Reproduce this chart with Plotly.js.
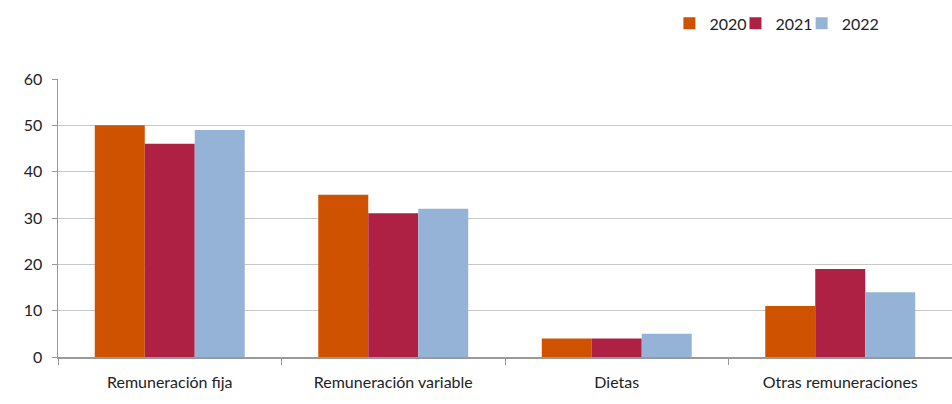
<!DOCTYPE html>
<html>
<head>
<meta charset="utf-8">
<script src="https://cdn.plot.ly/plotly-3.0.1.min.js"></script>
<style>html,body{margin:0;padding:0;background:#fff;}#chart{width:952px;height:404px;}</style>
</head>
<body>
<div id="chart"></div>
<script>
const categories = ["Remuneración fija", "Remuneración variable", "Dietas", "Otras remuneraciones"];
const seriesNames = ["2020", "2021", "2022"];
const values2020 = [50, 35, 4, 11];
const values2021 = [46, 31, 4, 19];
const values2022 = [49, 32, 5, 14];
const yTicks = [0, 10, 20, 30, 40, 50, 60];

const colors = ["#CE5200", "#AE2145", "#95B3D7"];
const legendIds = ["legend", "legend2", "legend3"];
const legendX = [0.6839, 0.7578, 0.8318];
const allValues = [values2020, values2021, values2022];
const traces = allValues.map((v, i) => ({
  type: "bar",
  name: seriesNames[i],
  x: categories,
  y: v,
  legend: legendIds[i],
  marker: {color: colors[i], line: {width: 0}},
  hoverinfo: "x+y+name"
}));

const layout = {
  width: 952, height: 404,
  margin: {l: 58, r: 0, t: 79, b: 47},
  paper_bgcolor: "#fff", plot_bgcolor: "#fff",
  font: {family: "Lato, 'Open Sans', sans-serif", size: 16, color: "#222"},
  barmode: "group",
  bargap: 0.329, bargroupgap: 0,
  showlegend: true,
  xaxis: {
    type: "category",
    showline: true, linecolor: "#999", linewidth: 1.5,
    ticks: "outside", tickson: "boundaries", ticklen: 6, tickcolor: "#999",
    showgrid: false, zeroline: false,
    tickfont: {size: 16, color: "#222"}, ticklabelstandoff: 10
  },
  yaxis: {
    range: [0, 60], tickvals: yTicks,
    showline: true, linecolor: "#999", linewidth: 1.5,
    ticks: "outside", ticklen: 5, tickcolor: "#999",
    showgrid: true, gridcolor: "#c8c8c8", gridwidth: 1,
    zeroline: false,
    tickfont: {size: 16, color: "#222"}, ticklabelstandoff: 6
  }
};
legendIds.forEach((id, i) => {
  layout[id] = {orientation: "h", x: legendX[i], xanchor: "left", y: 1.2, yanchor: "middle",
                font: {size: 16, color: "#222"}, itemwidth: 30, bgcolor: "rgba(0,0,0,0)"};
});

Plotly.newPlot("chart", traces, layout, {displayModeBar: false, staticPlot: true});
</script>
</body>
</html>
